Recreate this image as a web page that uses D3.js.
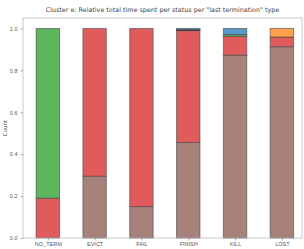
<!DOCTYPE html>
<html>
<head>
<meta charset="utf-8">
<script src="https://cdn.jsdelivr.net/npm/d3@7"></script>
<style>
  body { margin: 0; background: #fff; }
  svg { display: block; font-family: "DejaVu Sans", sans-serif; }
</style>
</head>
<body>
<div id="chart"></div>
<script>
// termination types (x categories)
const categories = ["NO_TERM", "EVICT", "FAIL", "FINISH", "KILL", "LOST"];

// status series, stacked bottom to top (fraction of total time)
const seriesNames = ["S5", "S3", "S2", "S7", "S0", "S1"];
const s5 = [0.000, 0.295, 0.150, 0.456, 0.873, 0.913];
const s3 = [0.190, 0.705, 0.850, 0.534, 0.090, 0.046];
const s2 = [0.810, 0.000, 0.000, 0.000, 0.008, 0.000];
const s7 = [0.000, 0.000, 0.000, 0.005, 0.000, 0.000];
const s0 = [0.000, 0.000, 0.000, 0.005, 0.029, 0.000];
const s1 = [0.000, 0.000, 0.000, 0.000, 0.000, 0.041];
const seriesColors = ["#a6827a", "#e05c5c", "#5db55d", "#111111", "#5899c9", "#ffa04c"];

const yTicks = [0, 0.2, 0.4, 0.6, 0.8, 1.0];

const width = 304, height = 249;
const margin = { top: 18, right: 2, bottom: 11, left: 23 };

const svg = d3.select("#chart").append("svg")
    .attr("width", width)
    .attr("height", height);

const rows = categories.map((c, i) => {
    const r = { cat: c };
    [s5, s3, s2, s7, s0, s1].forEach((s, j) => { r[seriesNames[j]] = s[i]; });
    return r;
});
const stacked = d3.stack().keys(seriesNames)(rows);

const x = d3.scaleLinear()
    .domain([-0.53, categories.length - 1 + 0.43])
    .range([margin.left, width - margin.right]);
const y = d3.scaleLinear()
    .domain([0, 1.05])
    .range([height - margin.bottom, margin.top]);

const barW = x(0.5) - x(0);

// bars
svg.append("g").selectAll("g")
    .data(stacked)
    .enter().append("g")
    .attr("fill", (d, i) => seriesColors[i])
    .selectAll("rect")
    .data(d => d.filter(p => p[1] - p[0] > 0))
    .enter().append("rect")
    .attr("x", d => x(categories.indexOf(d.data.cat)) - barW / 2)
    .attr("width", barW)
    .attr("y", d => y(d[1]))
    .attr("height", d => y(d[0]) - y(d[1]))
    .attr("stroke", "#444")
    .attr("stroke-opacity", 0.6)
    .attr("stroke-width", 1);

// axes frame
const frame = svg.append("g");
frame.append("rect")
    .attr("x", margin.left)
    .attr("y", margin.top)
    .attr("width", width - margin.left - margin.right)
    .attr("height", height - margin.top - margin.bottom)
    .attr("fill", "none")
    .attr("stroke", "#bbb")
    .attr("stroke-width", 0.8);

// y axis
const yAxis = svg.append("g")
    .attr("transform", `translate(${margin.left},0)`)
    .call(d3.axisLeft(y).tickValues(yTicks).tickFormat(d3.format(".1f")).tickSize(2.5).tickPadding(3));
yAxis.select(".domain").remove();
yAxis.selectAll("line").attr("stroke", "#777").attr("stroke-width", 0.6);
yAxis.selectAll("text").attr("fill", "#555").style("font-size", "5.5px");

// x axis
const xAxis = svg.append("g")
    .attr("transform", `translate(0,${height - margin.bottom})`)
    .call(d3.axisBottom(x).tickValues(d3.range(categories.length))
        .tickFormat(i => categories[i]).tickSize(2.5).tickPadding(2));
xAxis.select(".domain").remove();
xAxis.selectAll("line").attr("stroke", "#777").attr("stroke-width", 0.6);
xAxis.selectAll("text").attr("fill", "#555").style("font-size", "5.5px");

// labels
svg.append("text")
    .attr("x", (margin.left + width - margin.right) / 2)
    .attr("y", 12)
    .attr("text-anchor", "middle")
    .attr("fill", "#444")
    .style("font-size", "6.4px")
    .text('Cluster e: Relative total time spent per status per "last termination" type');

svg.append("text")
    .attr("transform", `translate(7,${(margin.top + height - margin.bottom) / 2}) rotate(-90)`)
    .attr("text-anchor", "middle")
    .attr("fill", "#555")
    .style("font-size", "5.5px")
    .text("Count");
</script>
</body>
</html>
